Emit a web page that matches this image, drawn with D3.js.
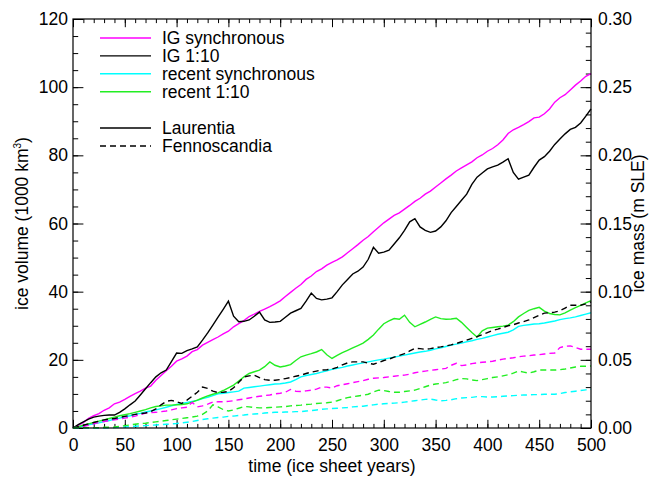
<!DOCTYPE html>
<html>
<head>
<meta charset="utf-8">
<script src="https://cdn.jsdelivr.net/npm/d3@7"></script>
<style>
  body { margin: 0; background: #fff; }
  svg text { font-family: "Liberation Sans", Arial, sans-serif; fill: #000; }
</style>
</head>
<body>
<div id="chart"></div>
<script>
// time axis: one sample every 5 ice sheet years
var years = d3.range(0, 501, 5);

// ice volume (1000 km3), Laurentia (solid)
var igSyncLaur = [0,0.8,1.6,2.8,3.6,4.2,5.2,5.9,7.1,7.6,8.4,9.3,10.1,10.8,11.7,12.3,14.0,15.4,16.8,18.1,19.6,20.3,21.1,22.4,23.0,24.3,25.1,25.9,26.7,27.6,28.4,29.7,30.6,31.5,32.7,33.4,34.2,34.9,35.6,36.4,37.3,38.6,39.8,41.0,42.1,43.6,44.6,45.9,46.7,47.8,48.6,49.3,50.2,51.4,52.6,53.8,55.1,56.2,57.6,58.9,60.2,61.3,62.4,63.1,64.2,65.3,66.5,67.4,68.6,69.5,70.7,71.9,73.1,74.2,75.4,76.3,77.2,78.1,79.3,80.1,81.2,82.0,83.1,84.5,86.4,87.5,88.2,89.0,89.9,91.0,91.2,92.2,93.6,95.6,96.9,97.8,99.2,100.6,101.8,103.2,104.0];
var ig110Laur = [0,1.0,1.8,2.6,3.2,3.5,3.7,3.8,3.8,4.6,5.6,6.8,7.9,9.7,11.5,13.3,15.0,16.2,17.0,19.5,22.0,21.9,22.7,23.2,23.8,25.8,27.9,30.2,32.5,34.8,37.2,32.8,31.2,31.3,31.7,32.8,34.0,31.7,31.0,31.1,31.3,32.5,33.7,34.4,35.1,37.2,39.6,38.0,37.6,37.8,38.2,40.0,42.0,43.6,45.2,46.0,47.2,49.5,53.0,51.3,51.6,52.2,54.0,55.8,58.0,60.5,61.4,59.0,58.0,57.4,57.8,59.0,60.8,63.2,65.0,66.8,68.6,71.5,73.6,74.8,76.0,76.6,77.1,78.0,79.0,75.0,73.0,73.6,74.2,76.5,78.6,79.6,81.2,83.2,84.8,86.3,87.6,88.2,89.5,91.5,93.6];
var recSyncLaur = [0,0.3,0.6,0.9,1.2,1.5,1.9,2.2,2.6,2.9,3.3,3.6,4.0,4.3,4.7,5.0,5.3,5.7,6.1,6.5,6.9,7.2,7.5,7.8,8.1,8.6,9.0,9.5,10.0,10.2,10.4,10.6,10.8,11.7,11.9,12.1,12.3,12.5,12.7,12.9,13.0,13.2,13.5,14.2,15.0,15.4,15.7,16.0,16.4,16.8,17.2,17.5,17.8,18.2,18.5,18.8,19.1,19.4,19.7,20.0,20.2,20.5,20.8,21.1,21.4,21.7,22.0,22.3,22.5,22.8,23.2,23.5,23.9,24.3,24.6,24.9,25.3,25.6,26.0,26.3,26.7,27.1,27.5,27.8,28.1,28.8,29.8,30.1,30.3,30.5,30.6,30.8,31.1,31.4,31.8,32.1,32.3,32.6,33.0,33.4,33.8];
var rec110Laur = [0,0.4,0.8,1.2,1.6,2.0,2.4,2.8,3.2,3.6,3.9,4.2,4.6,5.0,5.4,5.9,6.3,6.5,6.7,6.7,6.8,6.9,7.1,7.6,8.2,8.8,9.4,9.9,10.3,11.0,11.8,12.6,13.8,15.0,16.0,16.5,17.0,18.0,19.4,18.4,17.9,18.2,18.6,19.8,20.9,21.4,21.8,22.3,23.0,21.5,20.4,21.3,22.1,22.8,23.5,24.2,24.9,26.0,27.3,29.0,30.6,31.4,32.1,31.9,33.1,31.0,29.7,30.4,31.1,31.9,32.6,32.1,31.9,32.0,32.2,31.0,29.5,28.0,26.7,28.5,29.3,29.5,29.7,29.9,30.2,31.2,32.6,33.6,34.5,35.0,35.4,34.3,33.6,33.3,33.2,33.8,34.6,35.3,36.0,36.7,37.4];

// ice volume (1000 km3), Fennoscandia (dashed)
var igSyncFenn = [0,0.2,0.5,0.8,1.2,1.6,1.9,2.2,2.4,2.6,2.9,3.2,3.5,3.9,4.4,4.5,4.6,4.8,5.0,5.3,5.7,5.9,6.1,7.5,6.2,6.5,7.0,7.6,7.7,7.7,7.8,8.0,8.3,8.5,8.8,9.1,9.3,9.5,9.7,10.0,10.2,10.5,11.3,10.8,10.7,10.9,11.1,11.4,12.0,12.0,11.7,12.4,12.7,13.0,13.3,13.6,13.9,14.3,14.6,14.7,14.8,15.0,15.2,15.4,15.5,15.8,16.2,16.5,16.7,16.9,17.1,17.3,17.5,18.4,19.0,18.3,18.5,18.9,19.1,19.3,19.4,19.6,19.9,20.2,20.4,20.6,20.9,21.1,21.2,21.4,21.5,21.7,21.9,22.0,23.6,24.0,24.1,23.6,23.1,23.1,23.1];
var ig110Fenn = [0,0.4,0.8,1.2,1.6,2.0,2.4,2.6,2.8,3.1,3.4,3.7,4.0,4.2,4.4,4.8,5.6,6.8,7.8,8.1,7.7,7.2,8.2,9.3,10.5,12.0,11.6,10.8,10.4,10.5,10.7,11.8,13.4,15.0,15.3,15.5,14.8,14.2,14.0,14.0,14.2,14.5,14.8,15.2,15.5,16.0,16.4,16.7,17.0,17.1,17.3,17.8,18.5,19.1,19.4,19.4,19.4,19.0,18.7,19.2,19.8,20.2,20.8,21.3,21.8,22.6,23.4,23.3,23.1,23.3,23.6,23.8,24.1,24.4,24.8,25.3,25.8,26.3,26.8,27.4,28.0,28.6,29.0,29.5,30.0,30.3,30.8,31.2,31.7,32.4,33.1,33.7,33.8,34.0,34.4,35.2,36.0,36.0,36.0,36.4,37.0];
var recSyncFenn = [0,0,0,0,0,0,0,0.05,0.1,0.2,0.3,0.4,0.5,0.6,0.7,0.8,0.9,1.0,1.1,1.2,1.3,1.5,1.7,1.9,2.2,2.5,2.7,2.9,3.1,3.2,3.4,3.5,3.7,3.8,4.0,4.1,4.2,4.4,4.5,4.6,4.6,4.7,4.7,4.8,4.8,5.0,5.1,5.3,5.5,5.6,5.7,5.8,5.9,6.0,6.2,6.3,6.4,6.6,6.8,7.0,7.1,7.2,7.3,7.4,7.6,7.8,8.0,8.2,8.4,8.5,8.2,8.0,8.1,8.3,8.6,8.8,8.9,9.0,9.2,9.2,9.1,9.1,9.2,9.3,9.4,9.5,9.6,9.7,9.7,9.8,9.8,9.9,9.9,9.9,10.1,10.4,10.6,10.8,11.0,11.2,11.4];
var rec110Fenn = [0,0.1,0.1,0.1,0.1,0.1,0.2,0.2,0.3,0.5,0.7,0.9,1.1,1.3,1.4,1.6,1.8,2.0,2.2,2.4,2.6,2.8,3.0,3.2,3.5,4.0,5.0,6.8,6.2,5.4,5.0,5.3,5.8,6.3,6.2,6.0,5.9,5.9,6.0,6.1,6.2,6.3,6.5,6.6,6.7,6.9,7.0,7.2,7.3,7.4,7.6,8.0,8.5,8.9,9.2,9.4,9.6,9.9,10.6,11.1,11.0,10.7,10.5,10.5,10.7,10.9,11.1,11.6,12.1,12.6,12.9,13.1,13.3,13.7,14.2,14.5,14.4,14.1,13.9,14.2,14.5,14.8,15.0,15.3,15.6,16.1,16.7,16.4,16.1,16.5,17.0,17.0,17.0,17.0,17.1,17.3,17.6,17.9,18.1,18.1,18.2];

var runNames = ["IG synchronous", "IG 1:10", "recent synchronous", "recent 1:10"];
var runColors = ["#ff00ff", "#000000", "#00ffff", "#22ee22"];
var regionNames = ["Laurentia", "Fennoscandia"];
var xTicks = [0, 50, 100, 150, 200, 250, 300, 350, 400, 450, 500];
var yTicks = [0, 20, 40, 60, 80, 100, 120];
var y2Ticks = [0, 0.05, 0.10, 0.15, 0.20, 0.25, 0.30];

var series = [
  {values: igSyncLaur, run: 0, dashed: false},
  {values: ig110Laur, run: 1, dashed: false},
  {values: recSyncLaur, run: 2, dashed: false},
  {values: rec110Laur, run: 3, dashed: false},
  {values: igSyncFenn, run: 0, dashed: true},
  {values: ig110Fenn, run: 1, dashed: true},
  {values: recSyncFenn, run: 2, dashed: true},
  {values: rec110Fenn, run: 3, dashed: true}
];

var w = 649, h = 477;
var m = {left: 73, right: 58, top: 19, bottom: 49};
var iw = w - m.left - m.right, ih = h - m.top - m.bottom;
var fs = "17.5px";
var dash = "6,4";

var svg = d3.select("#chart").append("svg")
  .attr("width", w)
  .attr("height", h);
svg.append("rect").attr("width", w).attr("height", h).attr("fill", "#fff");

var x = d3.scaleLinear().domain([0, 500]).range([0, iw]);
var y = d3.scaleLinear().domain([0, 120]).range([ih, 0]);
var y2 = d3.scaleLinear().domain([0, 0.30]).range([ih, 0]);

var g = svg.append("g").attr("transform", "translate(" + m.left + "," + m.top + ")");

// ticks point inward, like IDL
var xLen = 8.2, yLen = 10.4;

function styleAxis(sel) {
  sel.select(".domain").remove();
  sel.selectAll("line").attr("stroke", "#000").attr("stroke-width", 1);
  sel.selectAll("text").style("font-size", fs).attr("font-family", null);
}

g.append("g").attr("transform", "translate(0," + ih + ")")
  .call(d3.axisBottom(x).tickValues(d3.range(0, 501, 10)).tickSize(-xLen / 2).tickFormat(""))
  .call(styleAxis);
g.append("g").attr("transform", "translate(0," + ih + ")")
  .call(d3.axisBottom(x).tickValues(xTicks).tickSize(-xLen).tickPadding(11).tickFormat(d3.format("d")))
  .call(styleAxis);
g.append("g")
  .call(d3.axisTop(x).tickValues(d3.range(0, 501, 10)).tickSize(-xLen / 2).tickFormat(""))
  .call(styleAxis);
g.append("g")
  .call(d3.axisTop(x).tickValues(xTicks).tickSize(-xLen).tickFormat(""))
  .call(styleAxis);

g.append("g")
  .call(d3.axisLeft(y).tickValues(d3.range(0, 121, 5)).tickSize(-yLen / 2).tickFormat(""))
  .call(styleAxis);
g.append("g")
  .call(d3.axisLeft(y).tickValues(yTicks).tickSize(-yLen).tickPadding(5).tickFormat(d3.format("d")))
  .call(styleAxis);
g.append("g").attr("transform", "translate(" + iw + ",0)")
  .call(d3.axisRight(y2).tickValues(d3.range(0, 31).map(function(d) { return d / 100; })).tickSize(-yLen / 2).tickFormat(""))
  .call(styleAxis);
g.append("g").attr("transform", "translate(" + iw + ",0)")
  .call(d3.axisRight(y2).tickValues(y2Ticks).tickSize(-yLen).tickPadding(7).tickFormat(d3.format(".2f")))
  .call(styleAxis);

// data lines
var line = d3.line()
  .x(function(d, i) { return x(years[i]); })
  .y(function(d) { return y(d); });

g.append("g").selectAll("path")
  .data(series)
  .enter()
  .append("path")
  .attr("d", function(d) { return line(d.values); })
  .attr("fill", "none")
  .attr("stroke", function(d) { return runColors[d.run]; })
  .attr("stroke-width", 1.4)
  .attr("stroke-dasharray", function(d) { return d.dashed ? dash : null; });

// plot frame
g.append("rect")
  .attr("width", iw)
  .attr("height", ih)
  .attr("fill", "none")
  .attr("stroke", "#000")
  .attr("stroke-width", 1.2);

// legend
var leg = g.append("g").attr("transform", "translate(27,19)");
var rows = runNames.map(function(n, i) { return {name: n, color: runColors[i], dashed: false, y: i * 17.9}; })
  .concat(regionNames.map(function(n, i) { return {name: n, color: "#000", dashed: i == 1, y: 90 + i * 18}; }));
var item = leg.selectAll("g").data(rows).enter().append("g")
  .attr("transform", function(d) { return "translate(0," + d.y + ")"; });
item.append("line")
  .attr("x1", 0).attr("x2", 51)
  .attr("stroke", function(d) { return d.color; })
  .attr("stroke-width", 1.4)
  .attr("stroke-dasharray", function(d) { return d.dashed ? dash : null; });
item.append("text")
  .attr("x", 62)
  .attr("dy", "0.35em")
  .style("font-size", fs)
  .text(function(d) { return d.name; });

// axis titles
svg.append("text")
  .attr("x", m.left + iw / 2)
  .attr("y", 472)
  .attr("text-anchor", "middle")
  .style("font-size", fs)
  .text("time (ice sheet years)");

var yt = svg.append("text")
  .attr("transform", "translate(28," + (m.top + ih / 2) + ") rotate(-90)")
  .attr("text-anchor", "middle")
  .style("font-size", fs);
yt.append("tspan").text("ice volume (1000 km");
yt.append("tspan").attr("dy", -7).style("font-size", "10px").text("3");
yt.append("tspan").attr("dy", 7).text(")");

svg.append("text")
  .attr("transform", "translate(644," + (m.top + ih / 2) + ") rotate(-90)")
  .attr("text-anchor", "middle")
  .style("font-size", fs)
  .text("ice mass (m SLE)");
</script>
</body>
</html>
